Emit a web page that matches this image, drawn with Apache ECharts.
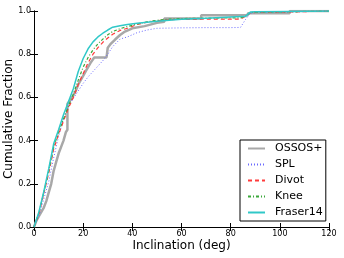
<!DOCTYPE html>
<html><head><meta charset="utf-8">
<script src="https://cdn.jsdelivr.net/npm/echarts@6/dist/echarts.min.js"></script>
<style>html,body{margin:0;padding:0;background:#fff}#c{width:344px;height:258px}</style>
</head><body><div id="c"></div>
<script>
// Model curves share this inclination grid (deg)
const modelX = [0,2,4,6,8,10,12,14,16,18,20,22,24,26,28,30,32,35,38,42,46,50,55,60,70,80,84,86,88,90,100,110,120];
const fraser14 = [0,0.07,0.165,0.27,0.385,0.45,0.52,0.58,0.64,0.72,0.78,0.825,0.857,0.88,0.897,0.912,0.925,0.932,0.937,0.943,0.948,0.952,0.957,0.962,0.967,0.972,0.974,0.975,0.995,0.997,0.998,0.999,1.0];
const knee     = [0,0.065,0.16,0.26,0.37,0.44,0.50,0.56,0.615,0.68,0.74,0.785,0.82,0.848,0.87,0.89,0.905,0.918,0.928,0.94,0.95,0.957,0.962,0.965,0.967,0.968,0.968,0.975,0.993,0.995,0.996,0.998,1.0];
const divot    = [0,0.06,0.155,0.25,0.36,0.43,0.49,0.55,0.60,0.66,0.71,0.76,0.80,0.83,0.855,0.875,0.892,0.91,0.92,0.938,0.948,0.955,0.96,0.961,0.962,0.962,0.962,0.975,0.992,0.993,0.995,0.997,1.0];
const spl      = [0,0.05,0.13,0.21,0.32,0.42,0.50,0.56,0.595,0.63,0.665,0.695,0.72,0.745,0.77,0.80,0.835,0.87,0.88,0.9,0.912,0.92,0.921,0.922,0.923,0.923,0.924,0.96,0.99,0.993,0.995,0.997,1.0];
// OSSOS+ observed cumulative distribution (step-like)
const ossosX = [0,1,2,3,4,5,6,7,8,9,10,11,12,13,13.6,13.6,15,16,17,18,19,20,21,22,23,24.5,29.5,30,31,33,35,37,40,45,50,53,53,68,68,87,87,104,104,120];
const ossosY = [0,0.03,0.05,0.07,0.09,0.12,0.16,0.2,0.26,0.3,0.34,0.37,0.40,0.44,0.45,0.57,0.59,0.61,0.63,0.66,0.68,0.70,0.72,0.74,0.76,0.785,0.785,0.83,0.845,0.868,0.889,0.905,0.92,0.93,0.945,0.95,0.965,0.965,0.98,0.98,0.99,0.99,1.0,1.0];
const xTicks = [0,20,40,60,80,100,120];
const yTicks = [0.0,0.2,0.4,0.6,0.8,1.0];

const pairs = (xs, ys) => xs.map((x, i) => [x, ys[i]]);
const chart = echarts.init(document.getElementById('c'), null, {renderer: 'canvas'});
const font = 'DejaVu Sans';
const axisCommon = {
  min: 0, axisLine: {show: true, lineStyle: {color: '#000', width: 1}},
  axisTick: {show: true, inside: true, length: 4, lineStyle: {color: '#000'}},
  splitLine: {show: false}
};
chart.setOption({
  animation: false,
  grid: {left: 34, right: 15, top: 11, bottom: 31, containLabel: false, outerBoundsMode: 'none'},
  xAxis: [
    Object.assign({}, axisCommon, {type: 'value', max: 120, interval: 20, name: 'Inclination (deg)', nameLocation: 'middle', nameGap: 13, nameMoveOverlap: false,
      nameTextStyle: {fontFamily: font, fontSize: 12, color: '#000', verticalAlign: 'top'},
      axisLabel: {fontFamily: font, fontSize: 8, color: '#000', margin: 3, formatter: v => xTicks.includes(v) ? String(v) : ''}}),
    Object.assign({}, axisCommon, {type: 'value', position: 'top', max: 120, interval: 20, axisLabel: {show: false}})
  ],
  yAxis: [
    Object.assign({}, axisCommon, {type: 'value', max: 1, interval: 0.2, name: 'Cumulative Fraction', nameLocation: 'middle', nameGap: 19, nameMoveOverlap: false,
      nameTextStyle: {fontFamily: font, fontSize: 12, color: '#000'},
      axisLabel: {fontFamily: font, fontSize: 8, color: '#000', margin: 3, formatter: v => v.toFixed(1)}}),
    Object.assign({}, axisCommon, {type: 'value', position: 'right', max: 1, interval: 0.2, axisLabel: {show: false}})
  ],
  legend: {
    orient: 'vertical', left: 240, top: 140,
    padding: [3, 3, 3, 7], itemGap: 5, itemWidth: 17, itemHeight: 13,
    borderColor: '#000', borderWidth: 1, backgroundColor: '#fff',
    itemStyle: {opacity: 0},
    textStyle: {fontFamily: font, fontSize: 11, color: '#000', padding: [0, 0, 0, 5]},
    data: ['OSSOS+', 'SPL', 'Divot', 'Knee', 'Fraser14']
  },
  series: [
    {name: 'OSSOS+', type: 'line', data: pairs(ossosX, ossosY), showSymbol: false, symbol: 'none', lineStyle: {color: '#a8a8a8', width: 2.5}, itemStyle: {color: '#a8a8a8'}, z: 1},
    {name: 'SPL', type: 'line', data: pairs(modelX, spl), showSymbol: false, symbol: 'none', lineStyle: {color: '#6a6aff', width: 1, type: [1, 2]}, itemStyle: {color: '#6a6aff'}, z: 2},
    {name: 'Divot', type: 'line', data: pairs(modelX, divot), showSymbol: false, symbol: 'none', lineStyle: {color: '#ff3a3a', width: 1.2, type: [4, 3]}, itemStyle: {color: '#ff3a3a'}, z: 3},
    {name: 'Knee', type: 'line', data: pairs(modelX, knee), showSymbol: false, symbol: 'none', lineStyle: {color: '#3aa83a', width: 1.2, type: [3, 2, 1, 2]}, itemStyle: {color: '#3aa83a'}, z: 4},
    {name: 'Fraser14', type: 'line', data: pairs(modelX, fraser14), showSymbol: false, symbol: 'none', lineStyle: {color: '#30c8c8', width: 1.5}, itemStyle: {color: '#30c8c8'}, z: 5}
  ]
});
</script></body></html>
